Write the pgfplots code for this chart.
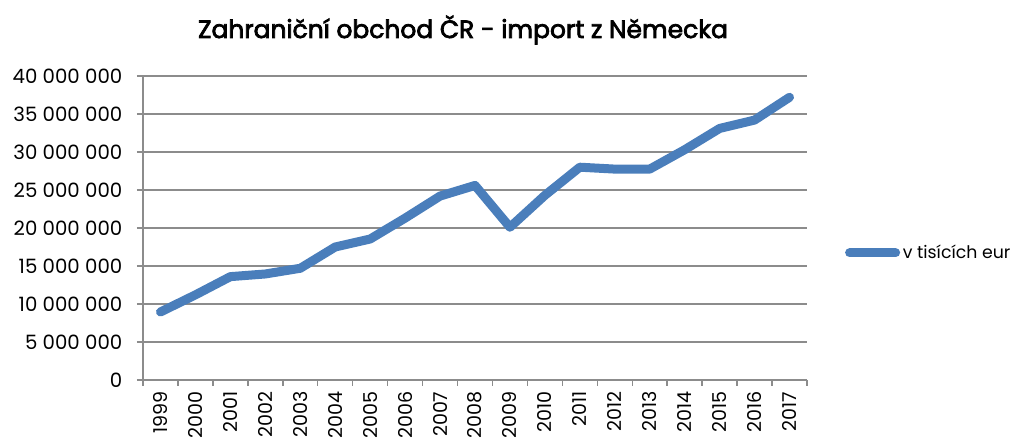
\documentclass[border=0pt]{standalone}
\usepackage{pgfplots}
\pgfplotsset{compat=1.18}
\usepackage{fontspec}
\setmainfont{Poppins}
\definecolor{lineblue}{HTML}{4A7EBB}
\definecolor{gridgray}{HTML}{8C8C8C}
\begin{document}
\begin{tikzpicture}
\useasboundingbox (0,0) rectangle (771.75pt,331.5pt);
\node[font=\fontsize{18.7}{22}\selectfont\addfontfeatures{FakeBold=3}] at (347.25pt,309pt) {Zahraniční obchod ČR - import z Německa};
\begin{axis}[
  at={(107.25pt,46.5pt)}, anchor=south west,
  scale only axis, width=498pt, height=228pt,
  xmin=-0.5, xmax=18.5, ymin=0, ymax=40000000,
  clip=false,
  axis x line=bottom, axis y line=left,
  axis line style={-, gridgray, line width=1.1pt},
  ymajorgrids, grid style={gridgray, line width=1.1pt},
  ytick={0,5000000,10000000,15000000,20000000,25000000,30000000,35000000,40000000},
  scaled y ticks=false,
  yticklabel style={font=\fontsize{14.8}{17}\selectfont, /pgf/number format/.cd, fixed, 1000 sep={\ }, assume math mode=true},
  xtick={0,...,18},
  xticklabels={1999,2000,2001,2002,2003,2004,2005,2006,2007,2008,2009,2010,2011,2012,2013,2014,2015,2016,2017},
  minor xtick={-0.5,0.5,...,18.5},
  tick align=outside,
  major tick length=4.5pt, minor tick length=4.5pt,
  major x tick style={draw=none},
  tick style={gridgray, line width=1.1pt},
  xticklabel style={font=\fontsize{14.3}{17}\selectfont, rotate=90, anchor=east, inner sep=1pt},
  xticklabel shift=3pt, yticklabel shift=7.5pt,
  legend style={draw=none, fill=none, at={(1.057,0.418)}, anchor=west,
    font=\fontsize{13}{15}\selectfont, inner sep=0pt},
  legend cell align=left,
  legend image code/.code={\draw[#1, line cap=round] (3.4pt,0pt) -- (37.9pt,0pt);},
]
\addplot[lineblue, line width=6.75pt, line cap=round, line join=round] coordinates {
(0,8950000) (1,11200000) (2,13600000) (3,13950000) (4,14700000) (5,17500000)
(6,18550000) (7,21300000) (8,24200000) (9,25600000) (10,20100000) (11,24300000)
(12,28000000) (13,27750000) (14,27750000) (15,30300000) (16,33100000)
(17,34200000) (18,37200000)};
\addlegendentry{v tisících eur}
\end{axis}
\end{tikzpicture}
\end{document}
